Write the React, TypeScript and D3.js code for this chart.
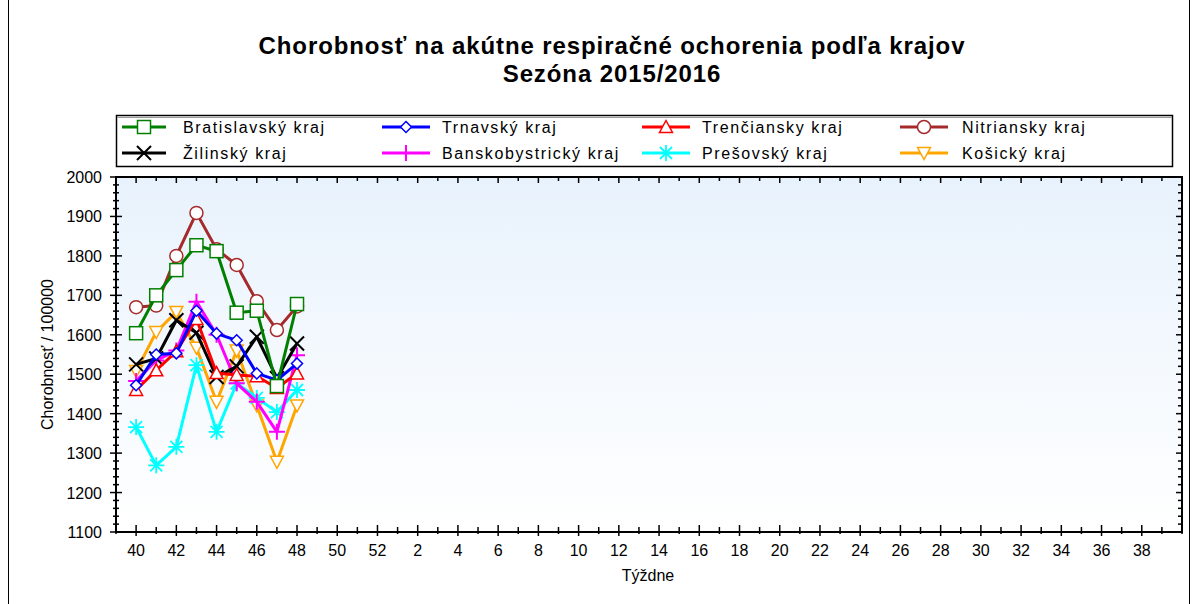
import React from "react";
import * as d3 from "d3";

const weekLabels = ["40","41","42","43","44","45","46","47","48","49","50","51","52","1","2","3","4","5","6","7","8","9","10","11","12","13","14","15","16","17","18","19","20","21","22","23","24","25","26","27","28","29","30","31","32","33","34","35","36","37","38","39"];

const bratislava = [1604, 1700, 1764, 1827, 1812, 1656, 1661, 1470, 1678];
const trnava = [1472, 1550, 1553, 1661, 1603, 1586, 1502, 1485, 1527];
const trencin = [1460, 1510, 1558, 1640, 1503, 1498, 1495, 1465, 1502];
const nitra = [1670, 1674, 1800, 1909, 1817, 1777, 1685, 1612, 1672];
const zilina = [1525, 1540, 1637, 1605, 1493, 1520, 1595, 1490, 1578];
const banskaBystrica = [1483, 1535, 1560, 1684, 1600, 1477, 1430, 1354, 1548];
const presov = [1366, 1269, 1316, 1523, 1354, 1477, 1440, 1404, 1460];
const kosice = [1508, 1607, 1658, 1567, 1430, 1560, 1421, 1278, 1421];

const seriesNames = ["Bratislavský kraj","Trnavský kraj","Trenčiansky kraj","Nitriansky kraj","Žilinský kraj","Banskobystrický kraj","Prešovský kraj","Košický kraj"];
const seriesColors = ["#008000","#0000ff","#ff0000","#a52a2a","#000000","#ff00ff","#00ffff","#ffa500"];
const seriesMarkers = ["square","diamond","triangleUp","circle","x","plus","asterisk","triangleDown"];
const seriesValues = [bratislava, trnava, trencin, nitra, zilina, banskaBystrica, presov, kosice];

const yTicks = [1100,1200,1300,1400,1500,1600,1700,1800,1900,2000];

const FONT = "'Liberation Sans', Arial, sans-serif";

function Marker({ type, x, y, color }: { type: string; x: number; y: number; color: string }) {
  const sw = 1.5;
  switch (type) {
    case "square":
      return <rect x={x - 6.5} y={y - 6.5} width={13} height={13} fill="#fff" stroke={color} strokeWidth={sw} />;
    case "circle":
      return <circle cx={x} cy={y} r={6.5} fill="#fff" stroke={color} strokeWidth={sw} />;
    case "diamond":
      return <path d={`M${x},${y - 5.5}L${x + 5.5},${y}L${x},${y + 5.5}L${x - 5.5},${y}Z`} fill="#fff" stroke={color} strokeWidth={sw} />;
    case "triangleUp":
      return <path d={`M${x},${y - 6.5}L${x + 6.5},${y + 5.5}L${x - 6.5},${y + 5.5}Z`} fill="#fff" stroke={color} strokeWidth={sw} />;
    case "triangleDown":
      return <path d={`M${x},${y + 6.5}L${x + 6.5},${y - 5.5}L${x - 6.5},${y - 5.5}Z`} fill="#fff" stroke={color} strokeWidth={sw} />;
    case "x":
      return <path d={`M${x - 7},${y - 7}L${x + 7},${y + 7}M${x - 7},${y + 7}L${x + 7},${y - 7}`} stroke={color} strokeWidth={2} />;
    case "plus":
      return <path d={`M${x - 8},${y}L${x + 8},${y}M${x},${y - 8}L${x},${y + 8}`} stroke={color} strokeWidth={2} />;
    case "asterisk":
      return <path d={`M${x - 8},${y}L${x + 8},${y}M${x},${y - 8}L${x},${y + 8}M${x - 6},${y - 6}L${x + 6},${y + 6}M${x - 6},${y + 6}L${x + 6},${y - 6}`} stroke={color} strokeWidth={1.8} />;
    default:
      return null;
  }
}

export default function App() {
  const W = 1197, H = 604;
  const left = 116, right = 1182, top = 177, bottom = 532;
  const x = d3.scaleLinear().domain([-1, weekLabels.length]).range([left, right]);
  const y = d3.scaleLinear().domain([1100, 2000]).range([bottom, top]);
  const line = d3.line<number>().x((_, i) => x(i)).y((d) => y(d));

  const minorY = d3.range(1100, 2001, 20);
  const xIdx = d3.range(-1, weekLabels.length + 1);

  const legendCols = [
    { lx0: 122, lx1: 166, tx: 183 },
    { lx0: 382, lx1: 430, tx: 442 },
    { lx0: 642, lx1: 690, tx: 702 },
    { lx0: 900, lx1: 948, tx: 962 },
  ];
  const legendRows = [127, 153];

  const order = d3.range(seriesValues.length).reverse();

  return (
    <svg width={W} height={H} style={{ position: "absolute", left: 0, top: 0, background: "#fff" }}>
      <defs>
        <linearGradient id="bg" x1="0" y1="0" x2="0" y2="1">
          <stop offset="0%" stopColor="#e8f2fc" />
          <stop offset="100%" stopColor="#ffffff" />
        </linearGradient>
      </defs>
      <rect x={0} y={0} width={W} height={H} fill="#fff" />
      <rect x={8.5} y={-2} width={1181} height={H + 4} fill="none" stroke="#000" strokeWidth={1} />

      <text x={612} y={54} textAnchor="middle" fontFamily={FONT} fontWeight="bold" fontSize={24} letterSpacing={0.9} fill="#000">
        Chorobnosť na akútne respiračné ochorenia podľa krajov
      </text>
      <text x={612} y={82} textAnchor="middle" fontFamily={FONT} fontWeight="bold" fontSize={24} letterSpacing={0.9} fill="#000">
        Sezóna 2015/2016
      </text>

      {/* legend */}
      <rect x={116.5} y={115.5} width={1056} height={51} fill="#fff" stroke="#000" strokeWidth={1.5} />
      <line x1={117} x2={1172} y1={117.5} y2={117.5} stroke="#999" strokeWidth={1} />
      {seriesNames.map((name, i) => {
        const col = legendCols[i % 4];
        const ry = legendRows[Math.floor(i / 4)];
        const mx = (col.lx0 + col.lx1) / 2;
        return (
          <g key={name}>
            <line x1={col.lx0} x2={col.lx1} y1={ry} y2={ry} stroke={seriesColors[i]} strokeWidth={3} />
            <Marker type={seriesMarkers[i]} x={mx} y={ry} color={seriesColors[i]} />
            <text x={col.tx} y={ry + 5.5} fontFamily={FONT} fontSize={16} letterSpacing={1.6} fill="#000">{name}</text>
          </g>
        );
      })}

      {/* plot background */}
      <rect x={left} y={top} width={right - left} height={bottom - top} fill="url(#bg)" />

      {/* series */}
      {order.map((i) => (
        <g key={seriesNames[i]}>
          <path d={line(seriesValues[i]) || ""} fill="none" stroke={seriesColors[i]} strokeWidth={3} strokeLinejoin="round" />
          {seriesValues[i].map((v, j) => (
            <Marker key={j} type={seriesMarkers[i]} x={x(j)} y={y(v)} color={seriesColors[i]} />
          ))}
        </g>
      ))}

      {/* frame */}
      <rect x={left} y={top} width={right - left} height={bottom - top} fill="none" stroke="#000" strokeWidth={2} />

      {/* y ticks */}
      {minorY.map((v) => {
        const major = v % 100 === 0;
        return (
          <g key={v}>
            <line x1={major ? left - 6 : left - 3} x2={major ? left + 6 : left + 3} y1={y(v)} y2={y(v)} stroke="#000" strokeWidth={1.5} />
            <line x1={right} x2={major ? right - 6 : right - 4} y1={y(v)} y2={y(v)} stroke="#000" strokeWidth={1.5} />
          </g>
        );
      })}
      {yTicks.map((v) => (
        <text key={v} x={102} y={y(v) + 6} textAnchor="end" fontFamily={FONT} fontSize={16} fill="#000">{v}</text>
      ))}

      {/* x ticks */}
      {xIdx.map((i) => {
        const major = i >= 0 && i < weekLabels.length && i % 2 === 0;
        return (
          <g key={i}>
            <line x1={x(i)} x2={x(i)} y1={major ? bottom - 7 : bottom - 5} y2={major ? bottom + 4 : bottom + 2} stroke="#000" strokeWidth={1.5} />
            <line x1={x(i)} x2={x(i)} y1={top} y2={major ? top + 6 : top + 4} stroke="#000" strokeWidth={1.5} />
          </g>
        );
      })}
      {weekLabels.map((lab, i) =>
        i % 2 === 0 ? (
          <text key={lab} x={x(i)} y={556} textAnchor="middle" fontFamily={FONT} fontSize={16} fill="#000">{lab}</text>
        ) : null
      )}

      <text x={648} y={581} textAnchor="middle" fontFamily={FONT} fontSize={16} fill="#000">Týždne</text>
      <text transform={`translate(53,${(top + bottom) / 2}) rotate(-90)`} textAnchor="middle" fontFamily={FONT} fontSize={16} fill="#000">Chorobnosť / 100000</text>
    </svg>
  );
}
